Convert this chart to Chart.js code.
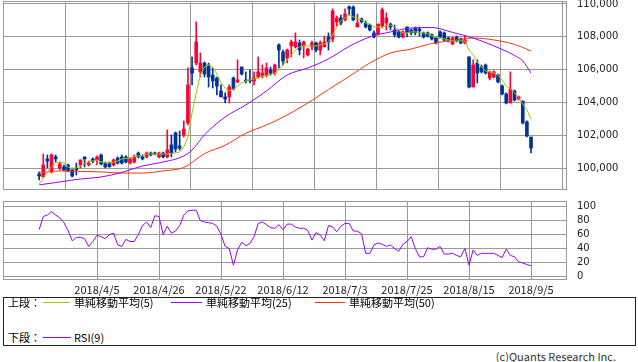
<!DOCTYPE html>
<html><head><meta charset="utf-8">
<script src="https://cdn.jsdelivr.net/npm/chart.js@4"></script>
<style>
body{margin:0;background:#fff;width:638px;height:362px;overflow:hidden;position:relative;font-family:"Noto Sans CJK JP",sans-serif;}
canvas{position:absolute;left:0;}
#c1{top:0;}
#c2{top:196px;}
#leg{position:absolute;left:3px;top:297px;width:631px;height:47px;border:1px solid #222;}
.t{position:absolute;font-size:11px;line-height:13px;color:#000;white-space:nowrap;}
.ln{position:absolute;height:1px;}
#copy{position:absolute;right:22px;top:350px;font-size:11px;line-height:13px;color:#333;white-space:nowrap;}
</style></head><body>
<canvas id="c1" width="638" height="191"></canvas>
<canvas id="c2" width="638" height="100"></canvas>
<div id="leg"></div>
<span class="t" style="left:8px;top:296px">上段：</span>
<span class="ln" style="left:43px;top:302px;width:27px;background:#99cc00"></span>
<span class="t" style="left:74px;top:296px">単純移動平均(5)</span>
<span class="ln" style="left:171px;top:302px;width:31px;background:#9900ff"></span>
<span class="t" style="left:206px;top:296px">単純移動平均(25)</span>
<span class="ln" style="left:315px;top:302px;width:30px;background:#ff3300"></span>
<span class="t" style="left:349px;top:296px">単純移動平均(50)</span>
<span class="t" style="left:8px;top:331px">下段：</span>
<span class="ln" style="left:43px;top:337px;width:28px;background:#9900ff"></span>
<span class="t" style="left:74px;top:331px">RSI(9)</span>
<span id="copy">(c)Quants Research Inc.</span>
<script>
const tickIdx = [14,29,44,59,74,89,104,119];
const tickLabels = ['2018/4/5','2018/4/26','2018/5/22','2018/6/12','2018/7/3','2018/7/25','2018/8/15','2018/9/5'];
const priceTicks = [100000,102000,104000,106000,108000,110000];
const rsiTicks = [0,20,40,60,80,100];

const opens = [99660,99480,100580,99790,100700,100030,100090,100210,99910,100030,
100210,100700,100210,100580,100520,100820,100330,100330,100210,100640,
100700,100700,100330,100390,100940,100700,100700,100940,100940,100700,
100940,100700,101430,102160,101370,102040,102770,106110,106410,105870,
106410,106290,105680,105500,104710,104350,104350,105500,105260,106170,
105380,105380,105320,105560,105620,105680,105990,105800,107510,107080,
106720,107450,107390,107630,107450,106900,107390,107630,107200,107390,
107990,107870,108910,109150,109030,109820,109820,108600,109090,108840,
108720,108240,108180,108660,108840,108780,108420,108300,107990,108600,
108420,108540,108480,108240,108240,108120,107930,108300,108240,107930,
107570,107990,107870,107630,106780,104950,106410,106170,106290,105500,
105560,105680,105010,104530,103980,104710,104220,104100,102830,101910];
const highs = [99790,100880,100820,100880,100820,100390,100210,100270,100030,100330,
100520,100700,100450,100640,100760,100880,100390,100390,100580,100700,
100820,100760,100640,100820,101000,100820,101000,101000,101000,101000,
101000,102340,102040,102220,102280,102890,106110,106780,108910,107020,
106470,106410,106110,105560,105080,104590,105080,105560,106600,106170,
105870,105990,105870,106780,106290,106410,106170,106350,107570,107200,
107260,107810,108240,107810,107750,107320,107750,107690,107750,108050,
108240,109700,109270,109330,109700,109880,109880,109390,109150,108970,
108780,108360,108780,109760,109450,108840,108720,108360,108360,108600,
108480,108600,108600,108300,108300,108180,107990,108360,108300,107990,
107990,108050,107930,108050,106780,106600,106600,106290,106350,105930,
105930,105740,105080,104590,105870,104770,104410,104100,102890,101910];
const lows = [99300,99480,100030,99720,100390,99910,99850,99790,99480,99600,
100030,100090,100150,100330,100210,100210,100030,100090,100150,100270,
100270,100330,100270,100330,100640,100520,100640,100760,100820,100640,
100640,100640,100700,101000,101120,101910,102640,105080,106290,105560,
105560,104950,104890,104470,104350,103980,103980,104770,105200,105680,
105200,105200,105080,105500,105500,105560,105680,105680,106110,106290,
106410,106780,107320,106900,106720,106840,107200,107080,106900,107390,
107200,107690,108660,108720,108970,109330,108970,108600,108840,108540,
108360,107930,108120,108540,108420,108420,107990,107930,107930,107990,
108120,108120,108050,107930,107990,107810,107570,107930,107750,107690,
107510,107690,107570,107570,104890,104950,105200,105800,105740,105380,
105500,105200,104470,103920,103980,104100,104160,102700,101910,100940];
const closes = [99540,100210,100450,100820,100580,100270,99910,99850,99540,99910,
100520,100580,100330,100450,100700,100270,100090,100090,100520,100330,
100330,100390,100580,100700,100700,100580,100940,100820,100880,100940,
100700,101120,100940,101180,101240,102400,105080,105800,107690,106410,
105740,105560,105320,105010,104350,104220,104950,104830,105380,105740,
105320,105320,105500,105870,105800,106110,105800,106290,107200,106530,
107200,107690,107690,107200,107690,107260,107630,107200,107630,107690,
107690,109570,109150,108840,109390,109700,109030,108840,108910,108600,
108420,107990,108780,109640,109150,108600,108120,107990,108300,108240,
108240,108240,108360,107990,108050,107870,107630,107990,107810,107750,
107930,107750,107630,107810,104950,106290,105800,105870,105800,105870,
105870,105260,104530,103980,104830,104160,104350,102770,101970,101240];

const ma5 = [99060,99420,99790,100090,100330,100390,100330,100090,99970,100030,
100150,100330,100390,100450,100520,100390,100330,100330,100390,100450,
100580,100610,100640,100700,100760,100820,100880,100880,100880,100880,
100880,100880,100910,100940,101000,101310,101910,103370,104590,105680,
106170,106290,106170,105740,105200,104890,104710,104830,105010,105200,
105320,105380,105440,105500,105620,105620,105680,105800,105990,106290,
106600,106900,107200,107390,107450,107450,107450,107450,107510,107570,
107690,108120,108600,108970,109150,109330,109210,109090,109030,108840,
108780,108600,108600,108600,108660,108720,108600,108420,108240,108240,
108300,108300,108240,108240,108180,108050,107990,107930,107870,107810,
107750,107750,107750,107750,107200,106900,106470,106170,105930,105870,
105800,105680,105380,105010,104830,104590,104280,103920,103560,103010];

const ma25Idx = [0,5,10,15,20,25,30,35,37,40,45,50,55,60,65,70,75,80,85,90,95,100,105,110,115,117,119];
const ma25 = [99000,99180,99360,99480,99760,100150,100390,100760,101120,102040,103130,103860,104710,105680,106110,106660,107420,107990,108300,108540,108570,108270,107930,107450,106870,106530,105800];

const ma50Idx = [0,5,10,15,20,25,30,35,40,45,50,55,60,65,70,75,80,85,90,95,100,105,110,115,119];
const ma50 = [99720,99850,99820,99790,99720,99720,99850,100060,100900,101410,102140,102640,103250,103980,104800,105590,106410,107020,107260,107600,107780,107930,107810,107540,107140];

const rsi9 = [67,86,88,93,88,84,77,66,51,56,
56,54,43,50,59,57,54,60,62,45,
43,53,50,50,60,73,78,70,87,86,
60,72,62,65,73,88,94,95,95,80,
78,77,76,72,60,43,40,16,38,49,
44,47,57,76,78,74,70,69,74,67,
75,75,71,69,69,66,52,63,59,51,
73,71,64,72,76,76,65,65,61,33,
33,45,48,46,43,45,40,36,46,50,
57,40,28,28,41,39,39,43,32,32,
33,30,28,40,16,38,30,33,33,33,
33,30,27,39,30,28,21,19,17,15];

const X_MIN = -8.74, X_MAX = 127.7;
const GRID = '#9a9a9a';
const UP = '#ff0033', DOWN = '#003399';

const frame = {
  id: 'frame',
  beforeDatasetsDraw(chart) {
    const a = chart.chartArea, c = chart.ctx;
    c.save(); c.strokeStyle = GRID; c.lineWidth = 1;
    c.strokeRect(Math.round(a.left) + 0.5, Math.round(a.top) + 0.5, Math.round(a.right - a.left) - 1, Math.round(a.bottom - a.top) - 1);
    c.restore();
  }
};

const idx = opens.map((_, i) => i);
const candleCol = idx.map(i => closes[i] >= opens[i] ? UP : DOWN);

function xScale(showLabels) {
  return {
    type: 'linear', min: X_MIN, max: X_MAX, offset: false,
    grid: { color: GRID, drawTicks: false, lineWidth: 1 },
    border: { display: false },
    ticks: {
      display: showLabels, padding: 3, autoSkip: false, maxRotation: 0, color: '#222',
      font: { family: 'Noto Sans CJK JP', size: 11 },
      callback: v => { const k = tickIdx.indexOf(v); return k >= 0 ? tickLabels[k] : ''; }
    },
    afterBuildTicks: s => { s.ticks = tickIdx.map(v => ({ value: v })); },
    afterFit: s => { s.height = showLabels ? 16 : 0; s.paddingLeft = 0; s.paddingRight = 0; }
  };
}
function yScale(min, max, ticksArr, fmt) {
  return {
    position: 'right', min: min, max: max,
    grid: { color: GRID, drawTicks: false, lineWidth: 1 },
    border: { display: false },
    ticks: { padding: 10, color: '#222', font: { family: 'DejaVu Sans', size: 10 }, callback: fmt },
    afterBuildTicks: s => { s.ticks = ticksArr.map(v => ({ value: v })); },
    afterFit: s => { s.width = 71; s.paddingTop = 0; s.paddingBottom = 0; }
  };
}

new Chart(document.getElementById('c1'), {
  type: 'bar',
  data: {
    datasets: [
      { type: 'line', label: 'MA5', data: idx.map(i => ({ x: i, y: ma5[i] })), borderColor: '#99cc00', borderWidth: 1, pointRadius: 0, order: 0 },
      { type: 'line', label: 'MA25', data: ma25Idx.map((x, k) => ({ x: x, y: ma25[k] })), borderColor: '#9900ff', borderWidth: 1, pointRadius: 0, cubicInterpolationMode: 'monotone', order: 0 },
      { type: 'line', label: 'MA50', data: ma50Idx.map((x, k) => ({ x: x, y: ma50[k] })), borderColor: '#ff3300', borderWidth: 1, pointRadius: 0, cubicInterpolationMode: 'monotone', order: 0 },
      { label: 'body', data: idx.map(i => ({ x: i, y: [opens[i], closes[i]] })), backgroundColor: candleCol, barThickness: 3, grouped: false, minBarLength: 1, order: 1 },
      { label: 'wick', data: idx.map(i => ({ x: i, y: [lows[i], highs[i]] })), backgroundColor: candleCol, barThickness: 1, grouped: false, order: 2 }
    ]
  },
  options: {
    responsive: false, animation: false, events: [],
    layout: { padding: { left: 3, right: 0, top: 1, bottom: 1 } },
    plugins: { legend: { display: false }, tooltip: { enabled: false } },
    scales: {
      x: xScale(false),
      y: yScale(98690, 110180, priceTicks, v => v.toLocaleString('en-US'))
    }
  },
  plugins: [frame]
});

new Chart(document.getElementById('c2'), {
  type: 'line',
  data: {
    datasets: [
      { label: 'RSI(9)', data: idx.map(i => ({ x: i, y: rsi9[i] })), borderColor: '#9900ff', borderWidth: 1, pointRadius: 0 }
    ]
  },
  options: {
    responsive: false, animation: false, events: [],
    layout: { padding: { left: 3, right: 0, top: 5, bottom: 0 } },
    plugins: { legend: { display: false }, tooltip: { enabled: false } },
    scales: {
      x: xScale(true),
      y: yScale(-5.3, 108.2, rsiTicks, v => String(v))
    }
  },
  plugins: [frame]
});
</script>
</body></html>
